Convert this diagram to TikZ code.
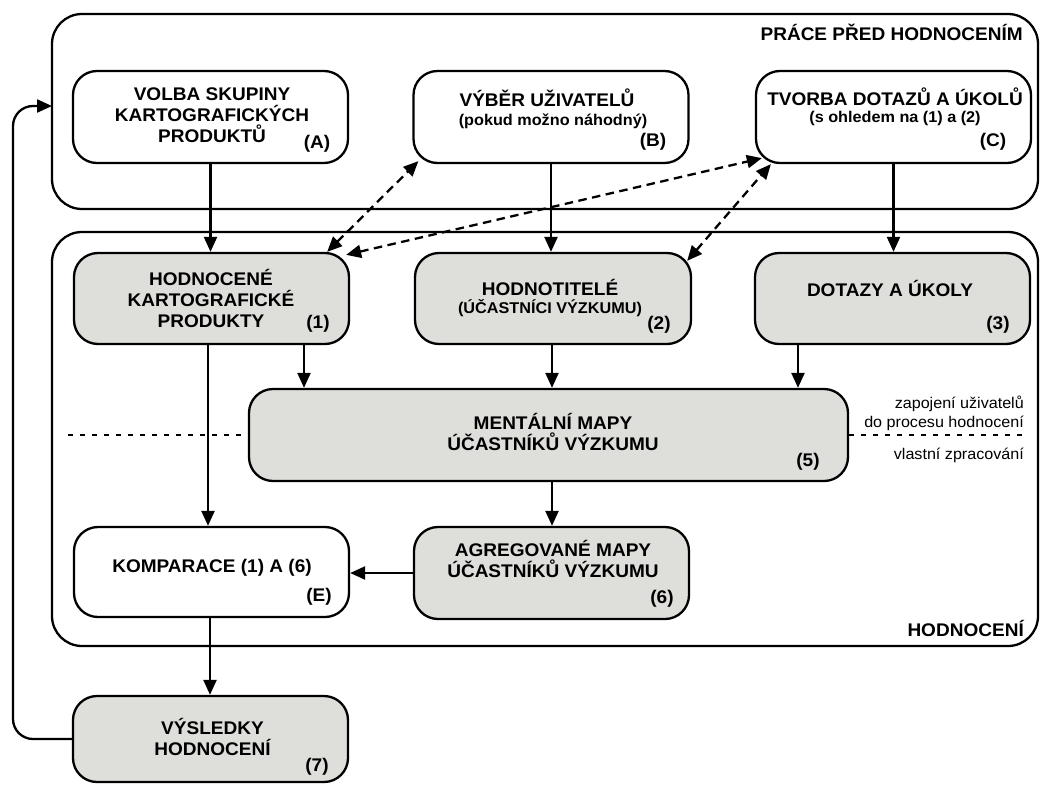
\documentclass[tikz,border=0pt]{standalone}
\usepackage{fontspec}
\setmainfont[FakeStretch=1.04]{Liberation Sans}
\usetikzlibrary{arrows.meta,calc}
\definecolor{boxgray}{RGB}{222,222,219}
\tikzset{
  frm/.style={draw, line width=2.3pt, rounded corners=30pt, minimum width=986pt, inner sep=0pt},
  wbox/.style={draw, line width=2.3pt, rounded corners=24pt, minimum width=275pt, minimum height=92pt, inner sep=0pt, fill=white},
  gbox/.style={wbox, fill=boxgray},
  mtxt/.style={font=\fontsize{18.3}{21}\selectfont\bfseries, align=center, inner sep=0pt},
  stxt/.style={font=\fontsize{15.6}{18}\selectfont\bfseries, align=center, inner sep=0pt},
  tagtxt/.style={font=\fontsize{18.3}{21}\selectfont\bfseries, inner sep=0pt},
  sidetxt/.style={font=\fontsize{15.5}{19}\selectfont, align=right, inner sep=0pt},
  arr/.style={line width=2.3pt, -{Triangle[length=15pt,width=13pt]}},
  darr/.style={line width=2.3pt, {Triangle[length=15pt,width=13pt]}-{Triangle[length=15pt,width=13pt]}, dash pattern=on 8.5pt off 5.5pt},
  dotline/.style={line width=2.3pt, dash pattern=on 5pt off 7pt}
}
\begin{document}
\begin{tikzpicture}[x=1pt,y=-1pt]
\useasboundingbox (0,0) rectangle (1043,784);
% frames
\node[frm, minimum height=195pt] (F1) at (545,111.5) {};
\node[frm, minimum height=414pt] (F2) at (545,439) {};
\node[tagtxt, anchor=east] (F1t) at (1023,32) {PRÁCE PŘED HODNOCENÍM};
\node[tagtxt, anchor=east] (F2t) at (1024,628) {HODNOCENÍ};
% top row
\node[wbox] (A) at (210.5,117) {};
\node[wbox] (B) at (551,117) {};
\node[wbox] (C) at (893.5,117) {};
\node[mtxt] (At) at (212,115.5) {VOLBA SKUPINY\\KARTOGRAFICKÝCH\\PRODUKTŮ};
\node[tagtxt] (Al) at (317,144) {(A)};
\node[mtxt] (Bt) at (547,98) {VÝBĚR UŽIVATELŮ};
\node[stxt] (Bs) at (553,121) {(pokud možno náhodný)};
\node[tagtxt] (Bl) at (653,142) {(B)};
\node[mtxt] (Ct) at (895,97) {TVORBA DOTAZŮ A ÚKOLŮ};
\node[stxt] (Cs) at (895,118) {(s ohledem na (1) a (2)};
\node[tagtxt] (Cl) at (993,142) {(C)};
% second row
\node[gbox, minimum height=91pt] (n1) at (211.5,298.5) {};
\node[gbox, minimum height=91pt, minimum width=276pt] (n2) at (553,298.5) {};
\node[gbox, minimum height=91pt] (n3) at (892.5,298.5) {};
\node[mtxt] (n1t) at (211,298) {HODNOCENÉ\\KARTOGRAFICKÉ\\PRODUKTY};
\node[tagtxt] (n1l) at (318,324) {(1)};
\node[mtxt] (n2t) at (550,287) {HODNOTITELÉ};
\node[stxt] (n2s) at (550,308) {(ÚČASTNÍCI VÝZKUMU)};
\node[tagtxt] (n2l) at (659,325) {(2)};
\node[mtxt] (n3t) at (890,288) {DOTAZY A ÚKOLY};
\node[tagtxt] (n3l) at (998,325) {(3)};
% mental maps
\node[gbox, minimum width=599pt] (n5) at (548.5,435) {};
\node[mtxt] (n5t) at (553,432) {MENTÁLNÍ MAPY\\ÚČASTNÍKŮ VÝZKUMU};
\node[tagtxt] (n5l) at (808,462) {(5)};
% lower row
\node[wbox, minimum height=90pt] (E) at (211.5,572) {};
\node[gbox] (n6) at (551.5,573) {};
\node[mtxt] (Et) at (212,568) {KOMPARACE (1) A (6)};
\node[tagtxt] (El) at (319,597) {(E)};
\node[mtxt] (n6t) at (553,559) {AGREGOVANÉ MAPY\\ÚČASTNÍKŮ VÝZKUMU};
\node[tagtxt] (n6l) at (662,599) {(6)};
% results
\node[gbox, minimum height=86pt] (R) at (210.5,739) {};
\node[mtxt] (Rt) at (212.5,737) {VÝSLEDKY\\HODNOCENÍ};
\node[tagtxt] (Rl) at (317,767) {(7)};
% side labels
\node[sidetxt, anchor=east] (s1) at (1024,413.5) {zapojení uživatelů\\do procesu hodnocení};
\node[sidetxt, anchor=east] (s2) at (1024,455) {vlastní zpracování};
% dotted divider
\coordinate (dl) at (68,435);
\coordinate (dr) at (1027,435);
\draw[dotline] (dl) -- (n5.west);
\draw[dotline] (n5.east) -- (dr);
% solid arrows
\draw[arr] (A.south) -- (A.south |- n1.north);
\draw[arr] (B.south) -- (B.south |- n2.north);
\draw[arr] (C.south) -- (C.south |- n3.north);
\draw[arr] (n1.south -| 304,0) -- (n5.north -| 304,0);
\draw[arr] (n2.south -| 552,0) -- (n5.north -| 552,0);
\draw[arr] (n3.south -| 798,0) -- (n5.north -| 798,0);
\draw[arr] (n1.south -| 208,0) -- (E.north -| 208,0);
\draw[arr] (n5.south -| 552,0) -- (n6.north -| 552,0);
\draw[arr] (n6.west) -- (n6.west -| E.east);
\draw[arr] (E.south -| 210,0) -- (R.north -| 210,0);
% feedback loop
\coordinate (lx) at (13,0);
\coordinate (fin) at (52,106);
\draw[arr, rounded corners=20pt] (R.west) -- (R.west -| lx) -- (lx |- fin) -- (fin);
% dashed links
\draw[darr] ($(n1.north east)+(-23,0)$) -- ($(B.south west)+(6,-3)$);
\draw[darr] ($(n1.north east)+(-4,3)$) -- ($(C.south west)+(7,-6)$);
\draw[darr] ($(n2.north east)+(-5,9)$) -- ($(C.south west)+(16,0)$);
\end{tikzpicture}
\end{document}
